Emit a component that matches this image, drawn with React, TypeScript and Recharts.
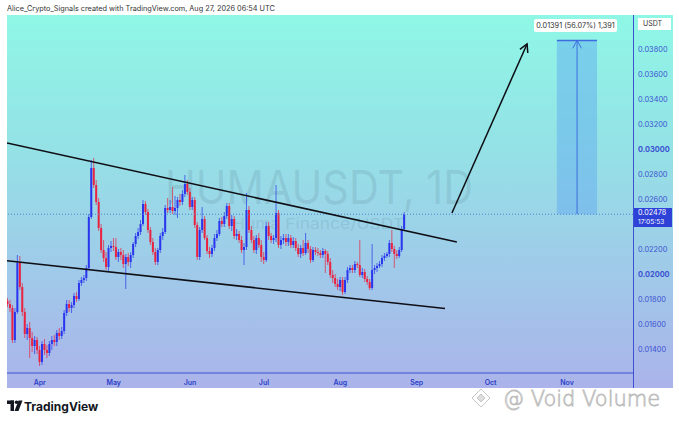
import React from "react";
import { ComposedChart, Bar, XAxis, YAxis, ReferenceLine, ReferenceArea } from "recharts";

// daily candles, day 0 = Apr 1 (first candle Mar 19)
const FIRST_DAY = -13;

const OPEN = [
    0.01784, 0.0176, 0.01728, 0.01472, 0.01696, 0.02088, 0.01896, 0.01696, 0.0152, 0.01568, 0.01488, 0.01424, 0.01472,
    0.01392, 0.01296, 0.0144, 0.01392, 0.01368, 0.0144, 0.01472, 0.01456, 0.01528, 0.01504,
    0.01544, 0.01688, 0.0176, 0.01728, 0.01752, 0.01824, 0.018, 0.01928, 0.01952, 0.01968,
    0.02048, 0.02456, 0.02848, 0.02712, 0.02576, 0.02368, 0.02192, 0.02128, 0.02056, 0.02208,
    0.02224, 0.02216, 0.02136, 0.02176, 0.02152, 0.0208, 0.02136, 0.02096, 0.02152, 0.0224,
    0.02304, 0.02336, 0.024, 0.0256, 0.02496, 0.02352, 0.02256, 0.02176, 0.02096, 0.02192,
    0.02304, 0.02336, 0.02528, 0.02512, 0.02536, 0.02504, 0.02528, 0.02592, 0.02576, 0.0264,
    0.0272, 0.02656, 0.02536, 0.02592, 0.02392, 0.02136, 0.02352, 0.0244, 0.02288, 0.02184,
    0.0216, 0.02208, 0.02288, 0.0232, 0.02424, 0.024, 0.02464, 0.02544, 0.02384, 0.0244,
    0.02304, 0.0232, 0.02272, 0.02192, 0.02216, 0.02512, 0.02352, 0.02272, 0.02192, 0.02288,
    0.02232, 0.02136, 0.02112, 0.02384, 0.02304, 0.02272, 0.02288, 0.02488, 0.02232, 0.02272,
    0.02288, 0.02256, 0.02288, 0.02232, 0.02264, 0.02208, 0.0216, 0.02208, 0.02168, 0.02248,
    0.022, 0.02112, 0.02192, 0.02176, 0.02168, 0.02152, 0.02184, 0.0216, 0.02096, 0.01992,
    0.01968, 0.0192, 0.01896, 0.01952, 0.01856, 0.01952, 0.02032, 0.02048, 0.02032, 0.0208,
    0.02072, 0.01992, 0.02016, 0.0196, 0.01936, 0.01888, 0.02032, 0.02048, 0.02064, 0.0208,
    0.02128, 0.02144, 0.0216, 0.02248, 0.022, 0.0216, 0.02144, 0.02192, 0.0236,
];

const HIGH = [
    0.01808, 0.01792, 0.01752, 0.01728, 0.02152, 0.02144, 0.01928, 0.01728, 0.016, 0.01616, 0.01536, 0.01504, 0.01496,
    0.01424, 0.01464, 0.0148, 0.01432, 0.01464, 0.01504, 0.01512, 0.01552, 0.01568, 0.01576,
    0.01712, 0.01792, 0.01792, 0.01776, 0.01848, 0.01856, 0.01952, 0.01976, 0.01992, 0.02072,
    0.0248, 0.02912, 0.02928, 0.02752, 0.02608, 0.024, 0.02272, 0.02176, 0.02232, 0.02264,
    0.02288, 0.02288, 0.022, 0.02208, 0.02192, 0.0216, 0.02168, 0.02176, 0.02256, 0.02328,
    0.02368, 0.02432, 0.02592, 0.02584, 0.0252, 0.02376, 0.02288, 0.02208, 0.02208, 0.02328,
    0.02368, 0.02552, 0.02608, 0.02592, 0.02696, 0.02624, 0.02616, 0.0264, 0.02672, 0.02792,
    0.02752, 0.02688, 0.02616, 0.02616, 0.02416, 0.02376, 0.02536, 0.02464, 0.02312, 0.02216,
    0.02232, 0.0232, 0.02352, 0.02448, 0.02456, 0.02496, 0.02568, 0.02568, 0.02472, 0.02464,
    0.0236, 0.02344, 0.02304, 0.02248, 0.02648, 0.02544, 0.02384, 0.02304, 0.02312, 0.02328,
    0.02272, 0.02176, 0.02416, 0.02416, 0.02328, 0.02312, 0.02712, 0.02512, 0.02304, 0.0232,
    0.0232, 0.0232, 0.02312, 0.02296, 0.02288, 0.0224, 0.02232, 0.02272, 0.02328, 0.02272,
    0.02224, 0.02216, 0.02216, 0.02208, 0.02192, 0.02208, 0.022, 0.02184, 0.02128, 0.02032,
    0.02, 0.0196, 0.01976, 0.01976, 0.01976, 0.02056, 0.02072, 0.02072, 0.02104, 0.02096,
    0.02272, 0.02048, 0.0204, 0.01984, 0.0196, 0.0224, 0.02072, 0.02088, 0.02104, 0.02152,
    0.02168, 0.02176, 0.02272, 0.02352, 0.02224, 0.02192, 0.02216, 0.02384, 0.02496,
];

const LOW = [
    0.01736, 0.01696, 0.01448, 0.01448, 0.0168, 0.01872, 0.01664, 0.01488, 0.01472, 0.01328, 0.01376, 0.0136, 0.0136,
    0.01264, 0.01272, 0.01352, 0.01328, 0.01344, 0.01392, 0.01424, 0.01424, 0.01472, 0.0148,
    0.0152, 0.01664, 0.01696, 0.01688, 0.01728, 0.01776, 0.01784, 0.01904, 0.01928, 0.01944,
    0.02032, 0.0244, 0.02688, 0.02552, 0.02344, 0.02168, 0.02096, 0.02032, 0.02016, 0.02176,
    0.02184, 0.02112, 0.02096, 0.02112, 0.02048, 0.0188, 0.02064, 0.02048, 0.02128, 0.02216,
    0.0228, 0.02312, 0.02384, 0.02472, 0.02328, 0.02232, 0.02152, 0.02072, 0.02072, 0.02168,
    0.02272, 0.0232, 0.02488, 0.02488, 0.0248, 0.02472, 0.02448, 0.02544, 0.02552, 0.02616,
    0.02632, 0.02512, 0.02512, 0.02368, 0.02112, 0.02112, 0.02328, 0.02272, 0.0216, 0.02128,
    0.02136, 0.02184, 0.02264, 0.02304, 0.02376, 0.02376, 0.0244, 0.0236, 0.02344, 0.0228,
    0.02272, 0.02248, 0.02168, 0.02072, 0.02192, 0.02328, 0.02248, 0.02168, 0.0216, 0.02208,
    0.02096, 0.0208, 0.02096, 0.02272, 0.02248, 0.0224, 0.02256, 0.02208, 0.022, 0.0224,
    0.02224, 0.02224, 0.02208, 0.02208, 0.02184, 0.02136, 0.02128, 0.02144, 0.02152, 0.02168,
    0.02088, 0.02096, 0.02152, 0.02144, 0.02128, 0.02128, 0.02008, 0.02072, 0.01968, 0.01928,
    0.01896, 0.01872, 0.01864, 0.01832, 0.0184, 0.01928, 0.02008, 0.02008, 0.02008, 0.02048,
    0.01976, 0.01968, 0.01936, 0.01912, 0.01872, 0.01872, 0.02, 0.02016, 0.02048, 0.02056,
    0.02104, 0.02128, 0.02136, 0.02176, 0.02048, 0.0212, 0.02128, 0.02176, 0.02344,
];

const CLOSE = [
    0.0176, 0.01728, 0.01472, 0.01696, 0.02088, 0.01896, 0.01696, 0.0152, 0.01568, 0.01488, 0.01424, 0.01472, 0.01392,
    0.01296, 0.0144, 0.01392, 0.01368, 0.0144, 0.01472, 0.01456, 0.01528, 0.01504, 0.01544,
    0.01688, 0.0176, 0.01728, 0.01752, 0.01824, 0.018, 0.01928, 0.01952, 0.01968, 0.02048,
    0.02456, 0.02848, 0.02712, 0.02576, 0.02368, 0.02192, 0.02128, 0.02056, 0.02208, 0.02224,
    0.02216, 0.02136, 0.02176, 0.02152, 0.0208, 0.02136, 0.02096, 0.02152, 0.0224, 0.02304,
    0.02336, 0.024, 0.0256, 0.02496, 0.02352, 0.02256, 0.02176, 0.02096, 0.02192, 0.02304,
    0.02336, 0.02528, 0.02512, 0.02536, 0.02504, 0.02528, 0.02592, 0.02576, 0.0264, 0.0272,
    0.02656, 0.02536, 0.02592, 0.02392, 0.02136, 0.02352, 0.0244, 0.02288, 0.02184, 0.0216,
    0.02208, 0.02288, 0.0232, 0.02424, 0.024, 0.02464, 0.02544, 0.02384, 0.0244, 0.02304,
    0.0232, 0.02272, 0.02192, 0.02216, 0.02512, 0.02352, 0.02272, 0.02192, 0.02288, 0.02232,
    0.02136, 0.02112, 0.02384, 0.02304, 0.02272, 0.02288, 0.02488, 0.02232, 0.02272, 0.02288,
    0.02256, 0.02288, 0.02232, 0.02264, 0.02208, 0.0216, 0.02208, 0.02168, 0.02248, 0.022,
    0.02112, 0.02192, 0.02176, 0.02168, 0.02152, 0.02184, 0.0216, 0.02096, 0.01992, 0.01968,
    0.0192, 0.01896, 0.01952, 0.01856, 0.01952, 0.02032, 0.02048, 0.02032, 0.0208, 0.02072,
    0.01992, 0.02016, 0.0196, 0.01936, 0.01888, 0.02032, 0.02048, 0.02064, 0.0208, 0.02128,
    0.02144, 0.0216, 0.02248, 0.022, 0.0216, 0.02144, 0.02192, 0.0236, 0.02478,
];

const MONTH_DAYS = [0, 30, 61, 91, 122, 153, 183, 214];
const MONTH_LABELS = ["Apr", "May", "Jun", "Jul", "Aug", "Sep", "Oct", "Nov"];
// 0.024 is hidden behind the last-price label, as in the reference
const PRICE_TICKS = [0.014, 0.016, 0.018, 0.02, 0.022, 0.026, 0.028, 0.03, 0.032, 0.034, 0.036, 0.038];
const BOLD_TICKS = [0.02, 0.03];

const LAST_PRICE = 0.02478;
const TARGET_PRICE = 0.03869;

// trend lines [day, price]
const UPPER_LINE = [[-13.3, 0.03048], [169.3, 0.02256]];
const LOWER_LINE = [[-13.3, 0.021064], [164.5, 0.01724]];
const ARROW = [[167.3, 0.02488], [197.8, 0.0384]];
const MEASURE_DAYS = [209.9, 218.1, 226.2];

const BLUE = "#2a36ee";
const RED = "#ea2340";
const AXIS_BLUE = "#3c52d2";

const candles = CLOSE.map((close, i) => ({
    day: FIRST_DAY + i,
    open: OPEN[i],
    high: HIGH[i],
    low: LOW[i],
    close,
    range: [LOW[i], HIGH[i]],
}));

function Candle(props: any) {
    const { x, y, width, height, payload } = props;
    if (payload == null || y == null) return null;
    const top = Math.min(y, y + height);
    const h = Math.abs(height);
    const span = payload.high - payload.low || 1e-9;
    const py = (p: number) => top + ((payload.high - p) / span) * h;
    const up = payload.close >= payload.open;
    const color = up ? BLUE : RED;
    const cx = x + width / 2;
    const bt = py(Math.max(payload.open, payload.close));
    const bb = py(Math.min(payload.open, payload.close));
    return (
        <g>
            <line x1={cx} x2={cx} y1={top} y2={top + h} stroke={color} strokeWidth={0.7} />
            <rect x={cx - 1} y={bt} width={2} height={Math.max(bb - bt, 0.8)} fill={color} />
        </g>
    );
}

function ArrowShape(props: any) {
    const { x1, y1, x2, y2 } = props;
    const ang = Math.atan2(y2 - y1, x2 - x1);
    const len = 9;
    const a = 0.5;
    const p1 = [x2 - len * Math.cos(ang - a), y2 - len * Math.sin(ang - a)];
    const p2 = [x2 - len * Math.cos(ang + a), y2 - len * Math.sin(ang + a)];
    return (
        <g>
            <line x1={x1} y1={y1} x2={x2} y2={y2} stroke={props.stroke} strokeWidth={props.strokeWidth} />
            <polyline
                points={`${p1[0]},${p1[1]} ${x2},${y2} ${p2[0]},${p2[1]}`}
                fill="none"
                stroke={props.stroke}
                strokeWidth={props.strokeWidth}
            />
        </g>
    );
}

function PriceTick(props: any) {
    const { y, payload } = props;
    const bold = BOLD_TICKS.some((b) => Math.abs(b - payload.value) < 1e-9);
    return (
        <text x={631} y={y} dy={2.6} fontSize={7.4} fill={AXIS_BLUE} fontWeight={bold ? 700 : 400}>
            {payload.value.toFixed(5)}
        </text>
    );
}

function MonthTick(props: any) {
    const { x, payload } = props;
    const i = MONTH_DAYS.indexOf(payload.value);
    return (
        <text x={x} y={369.5} textAnchor="middle" fontSize={7} fontWeight={600} fill="#2a40c8">
            {MONTH_LABELS[i]}
        </text>
    );
}

export default function App() {
    return (
        <div
            style={{
                position: "fixed",
                left: 0,
                top: 0,
                width: 679,
                height: 423,
                background: "#fff",
                overflow: "hidden",
                fontFamily: 'Inter, "Noto Sans", sans-serif',
            }}
        >
            <div style={{ position: "absolute", left: 7, top: 4, fontSize: 7.3, color: "#333", whiteSpace: "nowrap" }}>
                Alice_Crypto_Signals created with TradingView.com, Aug 27, 2026 06:54 UTC
            </div>
            <div
                style={{
                    position: "absolute",
                    left: 7,
                    top: 15,
                    width: 666,
                    height: 373,
                    background: "linear-gradient(180deg, #8ff7e6 0%, #94e2e6 35%, #a0c9e9 70%, #abb3ea 100%)",
                }}
            >
                <svg width={666} height={373} style={{ position: "absolute", left: 0, top: 0 }}>
                    <text
                        x={312}
                        y={189}
                        textAnchor="middle"
                        fontSize={46}
                        textLength={308}
                        lengthAdjust="spacingAndGlyphs"
                        fill="rgba(80,110,130,0.17)"
                    >
                        HUMAUSDT, 1D
                    </text>
                    <text
                        x={311}
                        y={214}
                        textAnchor="middle"
                        fontSize={15}
                        textLength={172}
                        lengthAdjust="spacingAndGlyphs"
                        fill="rgba(80,110,130,0.17)"
                    >
                        Huma Finance/USDT
                    </text>
                    <line x1={626.5} y1={0} x2={626.5} y2={373} stroke={AXIS_BLUE} strokeWidth={1} />
                </svg>
                <div style={{ position: "absolute", left: 0, top: 0 }}>
                    <ComposedChart width={666} height={373} data={candles} margin={{ top: 0, right: 0, bottom: 0, left: 0 }}>
                        <XAxis
                            dataKey="day"
                            type="number"
                            domain={[-13.3, 240.8]}
                            ticks={MONTH_DAYS}
                            tick={<MonthTick />}
                            tickLine={false}
                            axisLine={{ stroke: AXIS_BLUE, strokeWidth: 1.2 }}
                            height={15}
                            allowDataOverflow
                        />
                        <YAxis
                            orientation="right"
                            type="number"
                            domain={[0.01208, 0.04072]}
                            ticks={PRICE_TICKS}
                            tick={<PriceTick />}
                            tickLine={false}
                            axisLine={false}
                            width={40}
                            allowDataOverflow
                        />
                        <ReferenceArea
                            x1={MEASURE_DAYS[0]}
                            x2={MEASURE_DAYS[2]}
                            y1={LAST_PRICE}
                            y2={TARGET_PRICE}
                            fill="#5ea6f0"
                            fillOpacity={0.45}
                            stroke="none"
                            ifOverflow="visible"
                        />
                        <ReferenceLine
                            y={LAST_PRICE}
                            stroke="#4d7fd8"
                            strokeDasharray="1 2"
                            strokeWidth={1}
                        />
                        <ReferenceLine
                            segment={[
                                { x: MEASURE_DAYS[0], y: TARGET_PRICE },
                                { x: MEASURE_DAYS[2], y: TARGET_PRICE },
                            ]}
                            stroke="#3c6ce0"
                            strokeWidth={1.5}
                            ifOverflow="visible"
                        />
                        <ReferenceLine
                            segment={[
                                { x: MEASURE_DAYS[1], y: LAST_PRICE },
                                { x: MEASURE_DAYS[1], y: TARGET_PRICE },
                            ]}
                            stroke="#3c6ce0"
                            strokeWidth={1}
                            shape={<ArrowShape />}
                            ifOverflow="visible"
                        />
                        <Bar
                            dataKey="range"
                            barSize={2}
                            shape={<Candle />}
                            isAnimationActive={false}
                        />
                        <ReferenceLine
                            segment={[
                                { x: UPPER_LINE[0][0], y: UPPER_LINE[0][1] },
                                { x: UPPER_LINE[1][0], y: UPPER_LINE[1][1] },
                            ]}
                            stroke="#0e0e14"
                            strokeWidth={1.5}
                            ifOverflow="visible"
                        />
                        <ReferenceLine
                            segment={[
                                { x: LOWER_LINE[0][0], y: LOWER_LINE[0][1] },
                                { x: LOWER_LINE[1][0], y: LOWER_LINE[1][1] },
                            ]}
                            stroke="#0e0e14"
                            strokeWidth={1.5}
                            ifOverflow="visible"
                        />
                        <ReferenceLine
                            segment={[
                                { x: ARROW[0][0], y: ARROW[0][1] },
                                { x: ARROW[1][0], y: ARROW[1][1] },
                            ]}
                            stroke="#0e0e14"
                            strokeWidth={1.5}
                            shape={<ArrowShape />}
                            ifOverflow="visible"
                        />
                    </ComposedChart>
                </div>
                <div
                    style={{
                        position: "absolute",
                        left: 527,
                        top: 4,
                        width: 83,
                        height: 13,
                        background: "#fff",
                        borderRadius: 2,
                        fontSize: 7.3,
                        lineHeight: "13px",
                        textAlign: "center",
                        color: "#333",
                        whiteSpace: "nowrap",
                    }}
                >
                    0.01391 (56.07%) 1,391
                </div>
                <div
                    style={{
                        position: "absolute",
                        left: 631,
                        top: 3,
                        width: 33,
                        height: 12,
                        background: "#fff",
                        fontSize: 7,
                        lineHeight: "12px",
                        color: "#333",
                        paddingLeft: 5,
                        boxSizing: "border-box",
                    }}
                >
                    USDT
                </div>
                <div
                    style={{
                        position: "absolute",
                        left: 627,
                        top: 193,
                        width: 38,
                        height: 19,
                        background: "#2e42d8",
                        color: "#fff",
                        fontSize: 7.2,
                        lineHeight: "8.5px",
                        paddingLeft: 4,
                        paddingTop: 1,
                        boxSizing: "border-box",
                        whiteSpace: "nowrap",
                    }}
                >
                    <div>0.02478</div>
                    <div style={{ fontSize: 6.6 }}>17:05:53</div>
                </div>
            </div>
            <svg width={679} height={423} style={{ position: "absolute", left: 0, top: 0, pointerEvents: "none" }}>
                <g fill="#131722">
                    <rect x={7} y={400.5} width={7} height={3.5} />
                    <rect x={10.5} y={400.5} width={3.5} height={10.5} />
                    <circle cx={16.5} cy={402.3} r={1.8} />
                    <polygon points="18.5,400.5 22.5,400.5 18.5,411 14.5,411" />
                </g>
                <text x={24} y={410.5} fontSize={12} fontWeight={700} fill="#131722" fontFamily='Inter, "Noto Sans", sans-serif'>
                    TradingView
                </text>
                <g stroke="#b8b8b8" strokeWidth={0.8} fill="#fff" opacity={0.95}>
                    <polygon points="481,389 490,398 481,407 472,398" />
                    <polygon points="481,394 485,398 481,402 477,398" fill="#ddd" />
                    <text x={503} y={406} fontSize={21} fontFamily='"DejaVu Sans", sans-serif' fontWeight={300}>
                        @ Void Volume
                    </text>
                </g>
            </svg>
        </div>
    );
}
